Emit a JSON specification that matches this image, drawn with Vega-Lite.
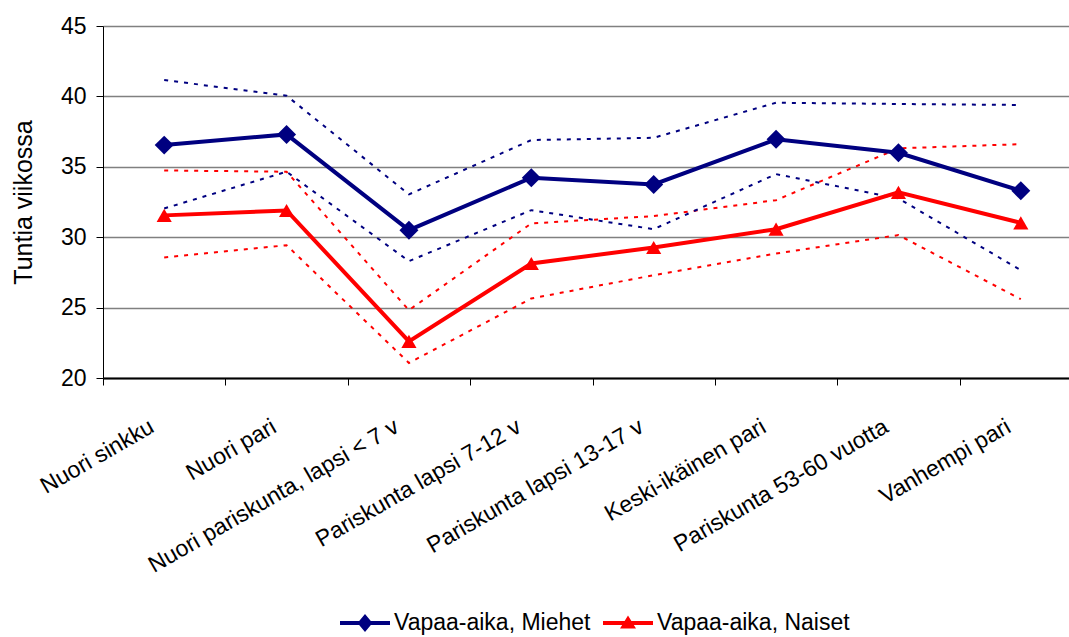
{
  "$schema": "https://vega.github.io/schema/vega-lite/v6.json",
  "autosize": "none",
  "padding": {"left": 103, "top": 26, "right": 0, "bottom": 259},
  "width": 966,
  "height": 352,
  "background": "white",
  "config": {
    "view": {"stroke": null},
    "font": "Liberation Sans",
    "axis": {"labelFont": "Liberation Sans", "titleFont": "Liberation Sans", "labelColor": "black", "titleColor": "black"}
  },
  "data": {
    "values": [
      {"cat": "Nuori sinkku", "series": "Vapaa-aika, Miehet", "value": 36.54, "hi": 41.16, "lo": 32.04},
      {"cat": "Nuori pari", "series": "Vapaa-aika, Miehet", "value": 37.3, "hi": 40.05, "lo": 34.65},
      {"cat": "Nuori pariskunta, lapsi < 7 v", "series": "Vapaa-aika, Miehet", "value": 30.5, "hi": 33.04, "lo": 28.3},
      {"cat": "Pariskunta lapsi 7-12 v", "series": "Vapaa-aika, Miehet", "value": 34.22, "hi": 36.9, "lo": 31.92},
      {"cat": "Pariskunta lapsi 13-17 v", "series": "Vapaa-aika, Miehet", "value": 33.75, "hi": 37.06, "lo": 30.57},
      {"cat": "Keski-ikäinen pari", "series": "Vapaa-aika, Miehet", "value": 36.95, "hi": 39.55, "lo": 34.48},
      {"cat": "Pariskunta 53-60 vuotta", "series": "Vapaa-aika, Miehet", "value": 36.0, "hi": 39.46, "lo": 32.75},
      {"cat": "Vanhempi pari", "series": "Vapaa-aika, Miehet", "value": 33.3, "hi": 39.39, "lo": 27.66},
      {"cat": "Nuori sinkku", "series": "Vapaa-aika, Naiset", "value": 31.55, "hi": 34.74, "lo": 28.56},
      {"cat": "Nuori pari", "series": "Vapaa-aika, Naiset", "value": 31.9, "hi": 34.65, "lo": 29.43},
      {"cat": "Nuori pariskunta, lapsi < 7 v", "series": "Vapaa-aika, Naiset", "value": 22.6, "hi": 24.82, "lo": 21.07},
      {"cat": "Pariskunta lapsi 7-12 v", "series": "Vapaa-aika, Naiset", "value": 28.13, "hi": 30.98, "lo": 25.65},
      {"cat": "Pariskunta lapsi 13-17 v", "series": "Vapaa-aika, Naiset", "value": 29.27, "hi": 31.5, "lo": 27.3},
      {"cat": "Keski-ikäinen pari", "series": "Vapaa-aika, Naiset", "value": 30.57, "hi": 32.63, "lo": 28.84},
      {"cat": "Pariskunta 53-60 vuotta", "series": "Vapaa-aika, Naiset", "value": 33.18, "hi": 36.31, "lo": 30.15},
      {"cat": "Vanhempi pari", "series": "Vapaa-aika, Naiset", "value": 31.02, "hi": 36.61, "lo": 25.6}
    ]
  },
  "encoding": {
    "x": {
      "field": "cat", "type": "nominal", "sort": null,
      "scale": {"range": [0, 979], "paddingInner": 0, "paddingOuter": 0},
      "axis": {
        "title": null, "labelAngle": -30, "labelAlign": "right", "labelBaseline": "top",
        "labelFontSize": 23, "labelPadding": 30, "labelOffset": -18,
        "tickBand": "extent", "tickSize": 7, "tickColor": "black", "tickWidth": 1,
        "domainColor": "black", "domainWidth": 2, "grid": false, "labelLimit": 400
      }
    },
    "color": {
      "field": "series", "type": "nominal",
      "scale": {"domain": ["Vapaa-aika, Miehet", "Vapaa-aika, Naiset"], "range": ["#000080", "#FF0000"]},
      "legend": null
    }
  },
  "resolve": {
    "scale": {"color": "independent", "shape": "independent"},
    "legend": {"color": "independent", "shape": "independent"}
  },
  "layer": [
    {
      "mark": {"type": "line", "strokeWidth": 2, "strokeDash": [4, 6]},
      "encoding": {
        "y": {
          "field": "hi", "type": "quantitative",
          "scale": {"domain": [20, 45], "nice": false, "zero": false},
          "axis": {
            "title": "Tuntia viikossa", "titleFontSize": 25, "titleFontWeight": "normal", "titlePadding": 24,
            "values": [20, 25, 30, 35, 40, 45], "labelFontSize": 23, "labelPadding": 10,
            "tickSize": 7, "tickColor": "black", "domainColor": "black", "domainWidth": 1,
            "grid": true, "gridColor": "#808080", "gridWidth": 1.5
          }
        }
      }
    },
    {
      "mark": {"type": "line", "strokeWidth": 2, "strokeDash": [4, 6]},
      "encoding": {"y": {"field": "lo", "type": "quantitative"}}
    },
    {
      "mark": {"type": "line", "strokeWidth": 4},
      "encoding": {"y": {"field": "value", "type": "quantitative"}}
    },
    {
      "transform": [{"filter": "datum.series === 'Vapaa-aika, Miehet'"}],
      "mark": {"type": "point", "shape": "diamond", "filled": true, "opacity": 1, "size": 360},
      "encoding": {"y": {"field": "value", "type": "quantitative"}}
    },
    {
      "transform": [{"filter": "datum.series === 'Vapaa-aika, Naiset'"}],
      "mark": {"type": "point", "shape": "triangle-up", "filled": true, "opacity": 1, "size": 230},
      "encoding": {"y": {"field": "value", "type": "quantitative"}}
    },
    {
      "mark": {"type": "point", "filled": true, "opacity": 0},
      "encoding": {
        "y": {"field": "value", "type": "quantitative"},
        "color": {
          "field": "series", "type": "nominal",
          "scale": {"domain": ["Vapaa-aika, Miehet", "Vapaa-aika, Naiset"], "range": ["#000080", "#FF0000"]},
          "legend": {
            "title": null, "orient": "none", "direction": "horizontal", "legendX": 237, "legendY": 572,
            "labelFontSize": 23, "labelFont": "Liberation Sans", "labelColor": "black", "symbolSize": 2500,
            "symbolOpacity": 1, "symbolStrokeWidth": 0, "labelOffset": 4, "columnPadding": 12, "labelLimit": 400
          }
        },
        "shape": {
          "field": "series", "type": "nominal",
          "scale": {"domain": ["Vapaa-aika, Miehet", "Vapaa-aika, Naiset"], "range": ["M-1,-0.08H1V0.08H-1Z M0,-0.36L0.3,0L0,0.36L-0.3,0Z", "M-1,-0.08H1V0.08H-1Z M0,-0.3L0.32,0.22L-0.32,0.22Z"]},
          "legend": {
            "title": null, "orient": "none", "direction": "horizontal", "legendX": 237, "legendY": 572,
            "labelFontSize": 23, "labelFont": "Liberation Sans", "labelColor": "black", "symbolSize": 2500,
            "symbolOpacity": 1, "symbolStrokeWidth": 0, "labelOffset": 4, "columnPadding": 12, "labelLimit": 400
          }
        }
      }
    }
  ]
}
